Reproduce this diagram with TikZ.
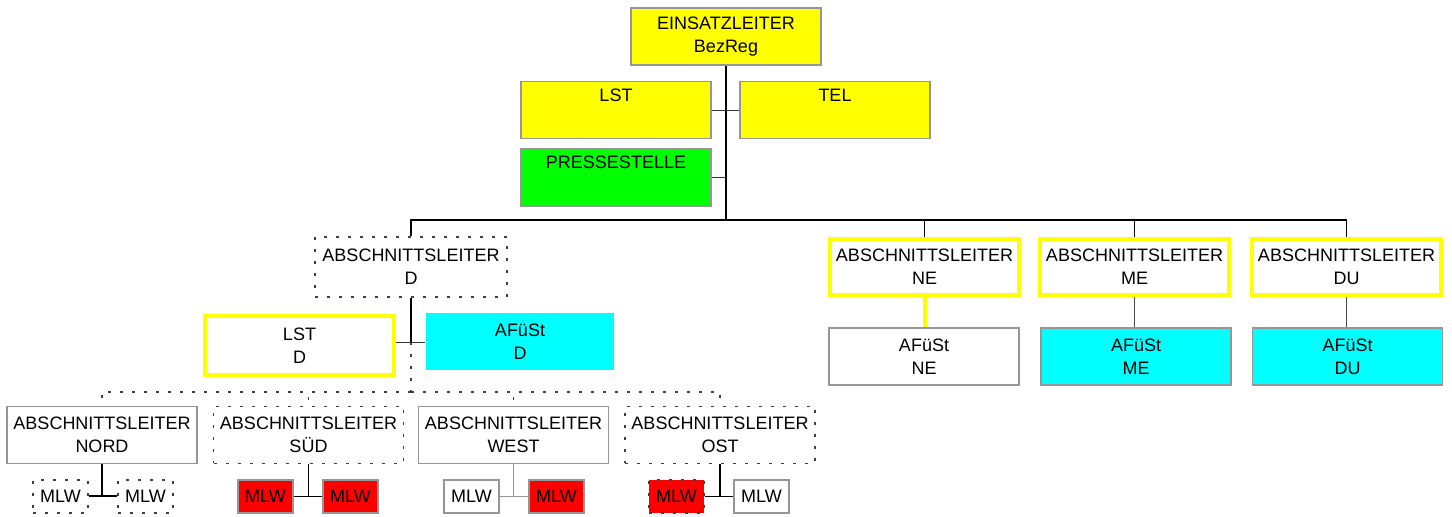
\documentclass[tikz,border=0pt]{standalone}
\usepackage{fontspec}
\setmainfont{Liberation Sans}
\definecolor{boxgray}{RGB}{150,150,150}
\definecolor{leadyellow}{RGB}{255,255,0}
\definecolor{pressgreen}{RGB}{0,255,0}
\definecolor{fuestcyan}{RGB}{0,255,255}
\definecolor{mlwred}{RGB}{255,0,0}
\tikzstyle{unit} = [rectangle, draw=boxgray, line width=0.6pt, minimum width=95pt, minimum height=28.5pt, inner sep=0pt, align=center, font=\fontsize{9}{11.5}\selectfont]
\tikzstyle{leader} = [unit, draw=leadyellow, line width=2pt, minimum width=94.5pt, minimum height=28pt]
\tikzstyle{open} = [draw=black!75, line width=0.6pt, dash pattern=on 1.5pt off 4.5pt]
\tikzstyle{mlw} = [unit, minimum width=27.5pt, minimum height=16.5pt]
\tikzstyle{link} = [line width=0.8pt]

\begin{document}
\begin{tikzpicture}[x=0.5pt, y=-0.5pt]
    \useasboundingbox (0,0) rectangle (1452,517);

    % leitung
    \node[unit, fill=leadyellow] (ein) at (726,36.5) {EINSATZLEITER\\BezReg};
    \node[unit, fill=leadyellow] (lst) at (616,110) {LST\\\strut};
    \node[unit, fill=leadyellow] (tel) at (835,110) {TEL\\\strut};
    \node[unit, fill=pressgreen] (presse) at (616,177.5) {PRESSESTELLE\\\strut};

    % abschnitte
    \node[unit, open, minimum width=96pt, minimum height=30pt] (ald) at (411,267) {ABSCHNITTSLEITER\\D};
    \node[leader] (alne) at (924.5,267) {ABSCHNITTSLEITER\\NE};
    \node[leader] (alme) at (1134.5,267) {ABSCHNITTSLEITER\\ME};
    \node[leader] (aldu) at (1346.5,267) {ABSCHNITTSLEITER\\DU};

    \node[unit] (afne) at (924,356.5) {AFüSt\\NE};
    \node[unit, fill=fuestcyan] (afme) at (1136,356.5) {AFüSt\\ME};
    \node[unit, fill=fuestcyan] (afdu) at (1347.5,356.5) {AFüSt\\DU};

    \node[leader, minimum height=29.5pt] (lstd) at (299.5,345.5) {LST\\D};
    \node[unit, fill=fuestcyan, draw=none, minimum width=94pt] (afd) at (520,341.5) {AFüSt\\D};

    % unterabschnitte D
    \node[unit] (alnord) at (102,435) {ABSCHNITTSLEITER\\NORD};
    \node[unit, open] (alsued) at (308.5,435) {ABSCHNITTSLEITER\\SÜD};
    \node[unit] (alwest) at (513.5,435) {ABSCHNITTSLEITER\\WEST};
    \node[unit, open] (alost) at (720,435) {ABSCHNITTSLEITER\\OST};

    \node[mlw, open] (m1) at (60.5,496.5) {MLW};
    \node[mlw, open] (m2) at (145.5,496.5) {MLW};
    \node[mlw, fill=mlwred] (m3) at (265.5,496.5) {MLW};
    \node[mlw, fill=mlwred] (m4) at (350.5,496.5) {MLW};
    \node[mlw] (m5) at (471.5,496.5) {MLW};
    \node[mlw, fill=mlwred] (m6) at (556.5,496.5) {MLW};
    \node[mlw, fill=mlwred, open] (m7) at (676.5,496.5) {MLW};
    \node[mlw] (m8) at (761.5,496.5) {MLW};

    \coordinate (bus) at (726,220);
    \coordinate (jd) at (411,342);
    \coordinate (bus2) at (411,392);

    \draw[link] (ein) -- (bus);
    \draw[black!80] (lst) -- (tel);
    \draw[black!80] (presse) -- (presse -| bus);
    \draw[link] (bus) -| (ald.north);
    \draw[link] (bus) -| (alne.north);
    \draw[link] (bus) -| (alme.north);
    \draw[link] (bus) -| (aldu.north);

    \draw[leadyellow, line width=2pt] (alne.south) -- (alne.south |- afne.north);
    \draw[black!70] (alme.south) -- (alme.south |- afme.north);
    \draw[black!70] (aldu.south) -- (aldu.south |- afdu.north);

    \draw[link] (ald) -- (jd);
    \draw[black!80] (lstd.east |- jd) -- (afd.west |- jd);
    \draw[open] (jd) -- (bus2);
    \draw[open] (bus2) -| (alnord.north);
    \draw[open] (bus2) -| (alsued.north);
    \draw[open] (bus2) -| (alwest.north);
    \draw[open] (bus2) -| (alost.north);

    \draw[line width=1.2pt] (alnord) -- (alnord |- m1);
    \draw[line width=1pt] (m1) -- (m2);
    \draw[link] (alsued) -- (alsued |- m3);
    \draw[link] (m3) -- (m4);
    \draw[boxgray, link] (alwest) -- (alwest |- m5);
    \draw[boxgray, link] (m5) -- (m6);
    \draw[link] (alost) -- (alost |- m7);
    \draw[link] (m7) -- (m8);
\end{tikzpicture}
\end{document}
